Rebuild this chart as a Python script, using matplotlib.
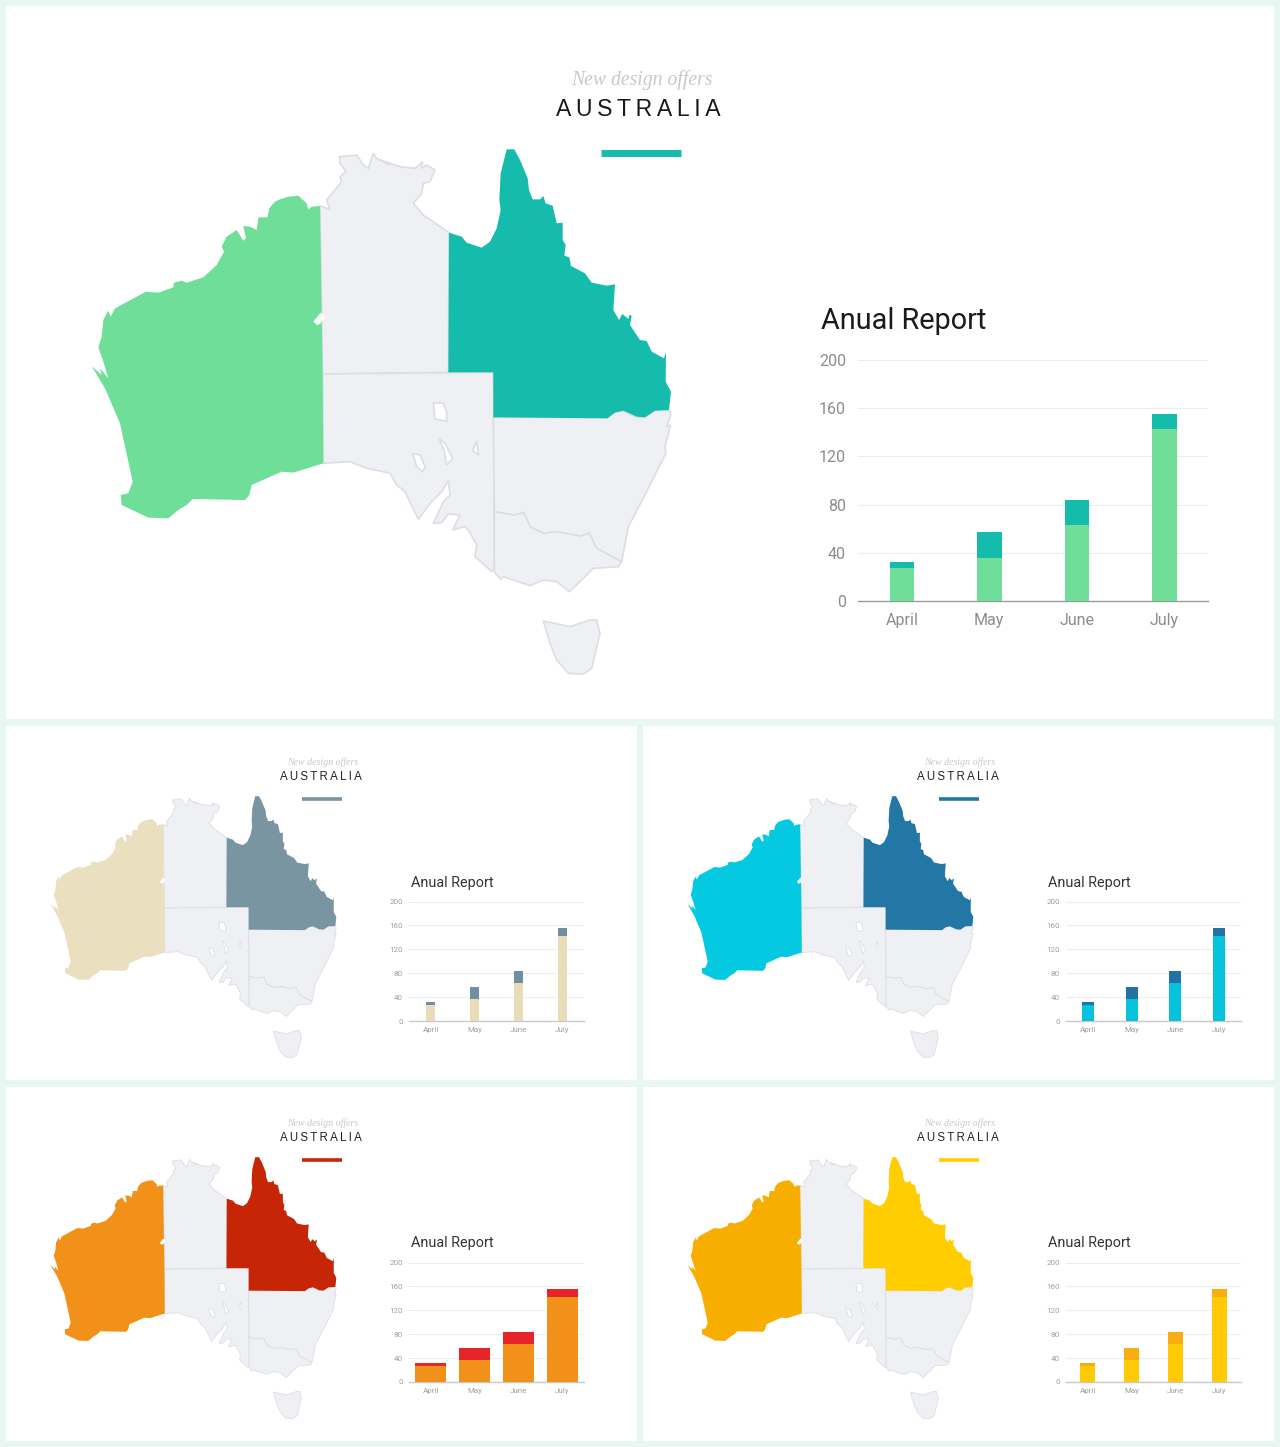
"""Australia sales infographic: one large panel and four small colour variants."""

import matplotlib

matplotlib.use("Agg")
import matplotlib.pyplot as plt
import numpy as np

# chart data
months = ["April", "May", "June", "July"]
base_values = [27, 36, 63, 143]
top_values = [5, 21, 21, 12]
y_ticks = [0, 40, 80, 120, 160, 200]

# outlines, as (x, y) pixels of three crops
CROP_W = (80, 140)
CROP_E = (380, 140)
CROP_S = (380, 360)

wa_outline = [
    (720, 198), (695, 200), (685, 208), (680, 190), (655, 167), (625, 170), (600, 178),
    (585, 185), (568, 205), (562, 232), (535, 232), (530, 270), (510, 260), (490, 258),
    (498, 295), (490, 302), (470, 270), (440, 290), (425, 320), (432, 335), (410, 375),
    (370, 412), (320, 428), (305, 422), (282, 428), (280, 442), (235, 458), (198, 455),
    (105, 505), (92, 530), (85, 512), (70, 540), (65, 590), (55, 622), (70, 665),
    (85, 715), (60, 685), (65, 705), (35, 678), (75, 745), (120, 850), (158, 1025),
    (145, 1060), (122, 1065), (125, 1095), (205, 1133), (265, 1135), (295, 1110),
    (320, 1095), (338, 1077), (495, 1080), (508, 1065), (515, 1035), (605, 995),
    (640, 998), (730, 970), (728, 702),
]
wa_notch = [(722, 518), (735, 530), (722, 550), (712, 556), (700, 545)]

nt_west = [
    (728, 702), (720, 198), (750, 208), (740, 180), (765, 150), (785, 125), (780, 110),
    (798, 95), (780, 70), (778, 50), (830, 45), (850, 75), (865, 85), (880, 40),
    (890, 55), (930, 75),
]
nt_east = [
    (0, 60), (60, 80), (105, 85), (128, 65), (125, 85), (140, 75), (165, 90), (150, 125),
    (130, 130), (125, 160), (100, 190), (130, 225), (207, 278), (205, 697),
]

qld_outline = [
    (207, 278), (245, 290), (260, 308), (305, 323), (330, 305), (350, 265), (362, 210),
    (358, 180), (362, 100), (380, 28), (403, 28), (420, 60), (443, 115), (447, 150),
    (458, 178), (480, 178), (490, 168), (497, 190), (518, 197), (530, 250), (548, 248),
    (548, 300), (557, 315), (553, 347), (568, 352), (573, 378), (615, 400), (635, 428),
    (680, 437), (705, 433), (700, 510), (717, 540), (727, 522), (745, 537), (748, 525),
    (755, 527), (750, 555), (780, 600), (800, 603), (815, 635), (852, 655), (858, 637),
    (857, 725), (873, 755), (867, 810), (825, 812), (795, 832), (770, 830), (730, 812),
    (705, 818), (682, 835), (340, 832), (340, 697), (205, 697),
]

sa_west = [(728, 702)]
sa_south = [
    (340, 37), (343, 630), (335, 635), (285, 590), (290, 555), (265, 510), (255, 500),
    (218, 510), (240, 465), (205, 462), (185, 488), (160, 490), (190, 425), (210, 405),
    (205, 362), (185, 395), (150, 430), (115, 478), (75, 395), (50, 375), (30, 340), (0, 333),
]
sa_tail = [(860, 985), (810, 965), (730, 970)]
sa_lakes = [
    [(160, 128), (190, 130), (200, 155), (200, 183), (180, 180), (165, 178)],
    [(178, 237), (195, 250), (218, 295), (200, 315), (192, 270)],
    [(98, 280), (120, 285), (135, 320), (128, 335), (110, 320)],
    [(290, 243), (296, 285), (278, 272)],
]

nsw_outline = [
    (340, 172), (682, 173), (705, 155), (730, 153), (770, 172), (795, 172), (825, 152),
    (870, 152), (872, 165), (860, 200), (872, 195), (855, 260), (858, 280), (800, 395),
    (745, 500), (725, 605), (650, 565), (628, 520), (600, 528), (530, 515), (490, 520),
    (450, 500), (432, 458), (400, 465), (343, 455),
]
vic_outline = [
    (343, 455), (400, 465), (432, 458), (450, 500), (490, 520), (530, 515), (600, 528),
    (628, 520), (650, 565), (725, 605), (715, 620), (640, 625), (600, 665), (568, 695),
    (530, 665), (490, 660), (450, 677), (370, 650), (362, 658), (343, 635),
]
tas_outline = [
    (490, 783), (570, 800), (630, 780), (650, 780), (660, 820), (635, 925), (610, 942),
    (565, 940), (530, 900), (510, 850),
]

PAGE_BG = "#E9F7F3"
LAND = "#EFF0F4"
LAND_EDGE = "#DDDEE3"
SANS = ["Liberation Sans", "DejaVu Sans"]
ROUND = "Roboto"
SPACED_TITLE = "\u2009".join("AUSTRALIA")


def from_crop(points, crop):
    return np.array(points, dtype=float) / 3 + crop


def draw_map(ax, west_color, east_color, scale, offset, edge_width):
    """Draw the states; scale/offset map the large panel's pixels to this panel."""

    def place(points):
        return points * scale + offset

    nt = np.vstack([from_crop(nt_west, CROP_W), from_crop(nt_east, CROP_E)])
    sa = np.vstack([
        from_crop(sa_west, CROP_W), from_crop(sa_south, CROP_S), from_crop(sa_tail, CROP_W),
    ])
    grey_states = [
        nt, sa, from_crop(nsw_outline, CROP_S), from_crop(vic_outline, CROP_S),
        from_crop(tas_outline, CROP_S),
    ]
    for shape in grey_states:
        xy = place(shape)
        ax.fill(xy[:, 0], xy[:, 1], facecolor=LAND, edgecolor=LAND_EDGE, lw=edge_width, zorder=2)
    for lake in sa_lakes:
        xy = place(from_crop(lake, CROP_S))
        ax.fill(xy[:, 0], xy[:, 1], facecolor="white", edgecolor=LAND_EDGE, lw=edge_width, zorder=3)

    xy = place(from_crop(wa_outline, CROP_W))
    ax.fill(xy[:, 0], xy[:, 1], facecolor=west_color, edgecolor="none", zorder=4)
    xy = place(from_crop(wa_notch, CROP_W))
    ax.fill(xy[:, 0], xy[:, 1], facecolor="white", edgecolor="none", zorder=5)
    xy = place(from_crop(qld_outline, CROP_E))
    ax.fill(xy[:, 0], xy[:, 1], facecolor=east_color, edgecolor="none", zorder=4)


def draw_bars(fig, box, base_color, top_color, bar_px, tick_size, tick_color, axis_color):
    """box is (left, right, y of 0, y of 200) in pixels."""
    left, right, y0, y200 = box
    W, H = fig.get_size_inches() * fig.dpi
    ax = fig.add_axes([left / W, 1 - y0 / H, (right - left) / W, (y0 - y200) / H])
    ax.patch.set_alpha(0)
    x = np.arange(len(months))
    width = bar_px / ((right - left) / len(months))
    ax.bar(x, base_values, width, color=base_color, zorder=3)
    ax.bar(x, top_values, width, bottom=base_values, color=top_color, zorder=3)
    ax.set_xlim(-0.5, len(months) - 0.5)
    ax.set_ylim(0, 200)
    ax.set_yticks(y_ticks)
    ax.set_xticks(x, months)
    ax.grid(axis="y", color="#ECEDEE", lw=0.8)
    ax.set_axisbelow(True)
    for name in ("top", "left", "right"):
        ax.spines[name].set_visible(False)
    ax.spines["bottom"].set_color(axis_color)
    ax.spines["bottom"].set_linewidth(1.0)
    ax.tick_params(axis="both", length=0, labelsize=tick_size, labelcolor=tick_color,
                   pad=tick_size * 0.75)
    for label in ax.get_xticklabels() + ax.get_yticklabels():
        label.set_family(ROUND)


def draw_panel(fig, ax, x_off, y_off, west_color, east_color, base_color, top_color, bar_px):
    """One small panel; offsets are relative to the top left small panel."""
    draw_map(ax, west_color, east_color, np.array([0.4935, 0.498]),
             np.array([5.2 + x_off, 721.8 + y_off]), 0.6)
    ax.text(323 + x_off, 762 + y_off, "New design offers", family="Liberation Serif",
            style="italic", fontsize=7.1, color="#C8C8C8", ha="center", va="center")
    ax.text(321 + x_off, 777 + y_off, SPACED_TITLE, family=SANS, fontsize=8.3,
            color="#222222", ha="center", va="center")
    ax.plot([302 + x_off, 342 + x_off], [799 + y_off, 799 + y_off], color=east_color,
            lw=2.6, solid_capstyle="butt")
    ax.text(411 + x_off, 886.5 + y_off, "Anual Report", family=ROUND,
            fontsize=10.4, color="#333333", ha="left", va="baseline")
    shift = 657 if x_off else 0
    draw_bars(fig, (409 + shift, 584 + shift, 1021 + y_off, 901.5 + y_off), base_color, top_color,
              bar_px, 5.8, "#A0A0A0", "#C9C9C9")


fig = plt.figure(figsize=(12.8, 14.47), dpi=100, facecolor=PAGE_BG)
page = fig.add_axes([0, 0, 1, 1])
page.set_xlim(0, 1280)
page.set_ylim(1447, 0)
page.axis("off")

panel_boxes = [
    (6, 6, 1268, 713), (6, 726, 631, 354), (643, 726, 631, 354),
    (6, 1087, 631, 354), (643, 1087, 631, 354),
]
for px, py, pw, ph in panel_boxes:
    page.fill([px, px + pw, px + pw, px], [py, py, py + ph, py + ph], color="white", lw=0, zorder=1)

# large panel
draw_map(page, "#6FDE99", "#16BCAB", 1.0, np.zeros(2), 1.2)
page.text(642, 80, "New design offers", family="Liberation Serif", style="italic",
          fontsize=14.2, color="#C8C8C8", ha="center", va="center")
page.text(638.5, 110, SPACED_TITLE, family=SANS, fontsize=16.6, color="#1A1A1A",
          ha="center", va="center")
page.plot([601, 681], [153, 153], color="#16BCAB", lw=5, solid_capstyle="butt")
page.text(821, 329, "Anual Report", family=ROUND, fontsize=20.8, color="#1A1A1A",
          ha="left", va="baseline")
draw_bars(fig, (858, 1208, 601, 360), "#6FDE99", "#16BCAB", 24.5, 11.5, "#8C8C8C", "#9A9A9A")

# small colour variants
draw_panel(fig, page, 0, 0, "#EAE0C0", "#7A95A2", "#E8DDB8", "#6F8FA3", 9)
draw_panel(fig, page, 637, 0, "#05C9E0", "#2277A5", "#05C3DE", "#2272A3", 12)
draw_panel(fig, page, 0, 361, "#F29119", "#C62606", "#F29119", "#E5252A", 31)
draw_panel(fig, page, 637, 361, "#F8AE00", "#FFCD00", "#FFC905", "#F8AE10", 15)

fig.savefig("out.png", dpi=100, facecolor=PAGE_BG)
